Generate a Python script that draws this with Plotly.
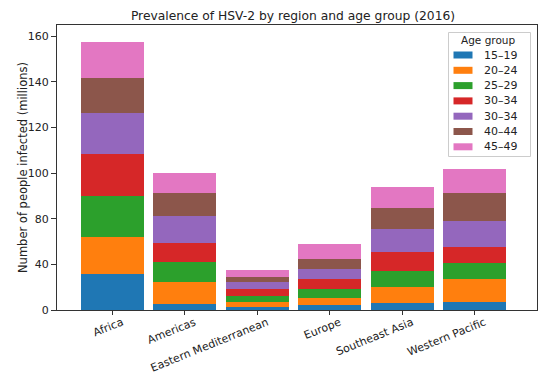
import plotly.graph_objects as go

regions = ["Africa", "Americas", "Eastern Mediterranean", "Europe", "Southeast Asia", "Western Pacific"]
age_groups = ["15–19", "20–24", "25–29", "30–34", "30–34", "40–44", "45–49"]

# values per age group (millions), one per region
v_15_19 = [20.8, 3.5, 1.8, 2.7, 3.9, 4.9]
v_20_24 = [22.0, 13.0, 3.1, 4.1, 9.5, 13.2]
v_25_29 = [23.6, 11.7, 3.5, 5.6, 9.2, 9.2]
v_30_34 = [24.5, 10.9, 3.7, 5.9, 11.5, 9.5]
v_30_34b = [24.0, 15.8, 4.1, 5.6, 13.4, 15.2]
v_40_44 = [20.7, 13.6, 3.2, 6.1, 12.2, 16.1]
v_45_49 = [21.1, 11.7, 4.0, 8.4, 12.3, 14.1]

series = [v_15_19, v_20_24, v_25_29, v_30_34, v_30_34b, v_40_44, v_45_49]
colors = ["#1f77b4", "#ff7f0e", "#2ca02c", "#d62728", "#9467bd", "#8c564b", "#e377c2"]

ytick_labels = ["0", "40", "80", "100", "120", "140", "160"]
ytick_top = 160
y_title = "Number of people infected (millions)"

# page body adds an 8px offset; figure sized to fit the 550x375 window
OFF = 8
W, H = 550 - OFF, 375 - OFF
ML, MR, MT, MB = 49, 13, 17, 65
PW, PH = W - ML - MR, H - MT - MB
PLOT_L, PLOT_B = ML + OFF, H - MB + OFF   # screen pixel positions of plot edges

def px2x(px):
    return (px - PLOT_L) / PW

def py2y(py):
    return (PLOT_B - py) / PH

fig = go.Figure()
for name, vals, col in zip(age_groups, series, colors):
    fig.add_trace(go.Bar(
        x=regions, y=vals, name=name,
        marker=dict(color=col, line=dict(width=0)),
        width=0.87, showlegend=False,
    ))

n = len(ytick_labels) - 1
tickvals = [i * ytick_top / n for i in range(n + 1)]

font = "DejaVu Sans, Arial, sans-serif"

# custom legend (box, title, swatches, labels)
shapes = [dict(type="rect", xref="paper", yref="paper",
               x0=px2x(448.5), x1=px2x(530.5), y0=py2y(156.5), y1=py2y(32.5),
               fillcolor="white", line=dict(color="#cccccc", width=1), layer="above")]
annotations = [dict(text="Age group", xref="paper", yref="paper",
                    x=px2x(488), y=py2y(40.5), xanchor="center", yanchor="middle",
                    showarrow=False, font=dict(size=10.5, color="#222", family=font))]
row0, row_h = 55.0, 15.3
for i, (name, col) in enumerate(zip(age_groups, colors)):
    cy = row0 + i * row_h
    shapes.append(dict(type="rect", xref="paper", yref="paper",
                       x0=px2x(453.5), x1=px2x(472.5), y0=py2y(cy + 3.5), y1=py2y(cy - 3.5),
                       fillcolor=col, line=dict(width=0), layer="above"))
    annotations.append(dict(text=name, xref="paper", yref="paper",
                            x=px2x(482), y=py2y(cy), xanchor="left", yanchor="middle",
                            showarrow=False, font=dict(size=11, color="#222", family=font)))

# y-axis title placed as rotated text
annotations.append(dict(text=y_title, xref="paper", yref="paper",
                        x=px2x(22.5), y=0.5, xanchor="center", yanchor="middle",
                        textangle=-90, showarrow=False,
                        font=dict(size=11.5, color="#222", family=font)))

fig.update_layout(
    barmode="stack",
    width=W, height=H,
    margin=dict(l=ML, r=MR, t=MT, b=MB, autoexpand=False),
    paper_bgcolor="white", plot_bgcolor="white",
    font=dict(family=font, size=11, color="#222"),
    title=dict(text="Prevalence of HSV-2 by region and age group (2016)",
               x=(293 - OFF) / W, xanchor="center", y=1 - (16 - OFF) / H, yanchor="middle",
               yref="container", font=dict(size=12.3, color="#222")),
    showlegend=False,
    shapes=shapes,
    annotations=annotations,
)
fig.update_xaxes(
    range=[-0.76, 5.86], showline=True, linecolor="#333", linewidth=1, mirror=True,
    ticks="outside", ticklen=4, tickcolor="#333", tickangle=-22,
    tickfont=dict(size=11), ticklabelshift=10, ticklabelstandoff=-3, automargin=False,
)
fig.update_yaxes(
    range=[0, PH / 1.7125], showline=True, linecolor="#333", linewidth=1, mirror=True,
    ticks="outside", ticklen=5, tickcolor="#333",
    tickvals=tickvals, ticktext=ytick_labels, showgrid=False, zeroline=False,
    tickfont=dict(size=11), automargin=False,
)

fig.write_html("out.html")
